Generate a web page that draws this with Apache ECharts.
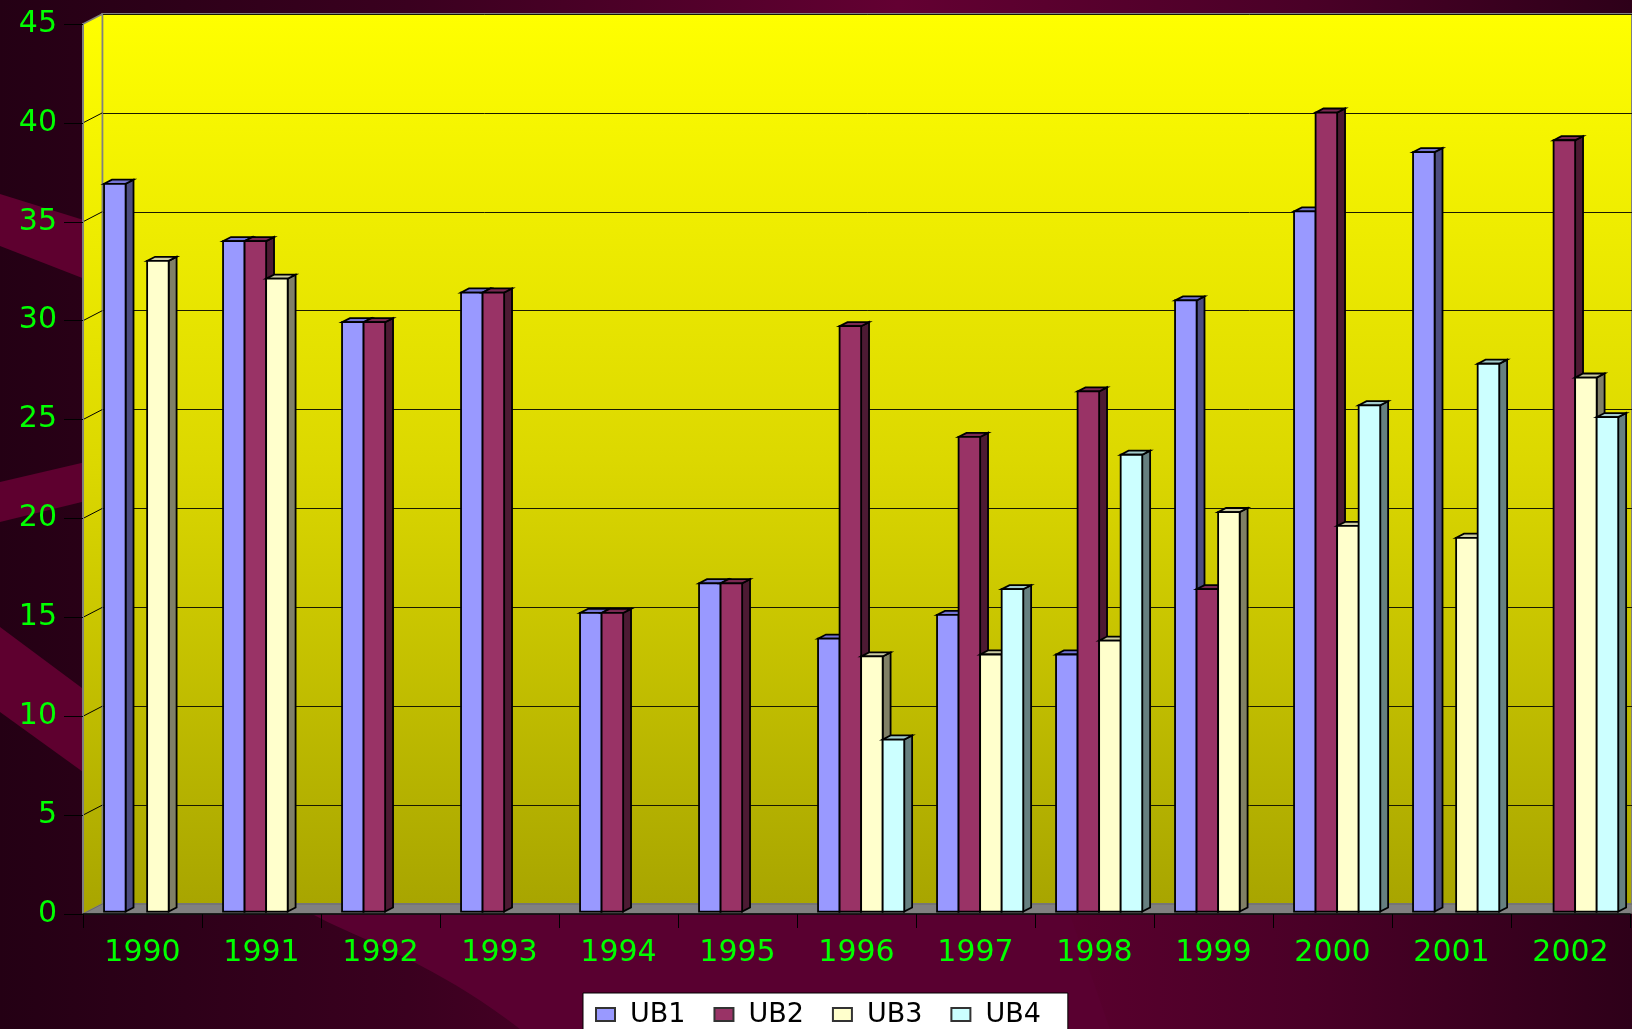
<!DOCTYPE html>
<html>
<head>
<meta charset="utf-8">
<script src="https://cdn.jsdelivr.net/npm/echarts@6/dist/echarts.min.js"></script>
<style>
html,body{margin:0;padding:0;background:#2a0018;overflow:hidden;}
#c{width:1632px;height:1029px;}
</style>
</head>
<body>
<div id="c"></div>
<script>
// ---- data ----
const categories = ['1990','1991','1992','1993','1994','1995','1996','1997','1998','1999','2000','2001','2002'];
const seriesNames = ['UB1','UB2','UB3','UB4'];
const ub1 = [36.8, 33.9, 29.8, 31.3, 15.1, 16.6, 13.8, 15.0, 13.0, 30.9, 35.4, 38.4, null];
const ub2 = [null, 33.9, 29.8, 31.3, 15.1, 16.6, 29.6, 24.0, 26.3, 16.3, 40.4, null, 39.0];
const ub3 = [32.9, 32.0, null, null, null, null, 12.9, 13.0, 13.7, 20.2, 19.5, 18.9, 27.0];
const ub4 = [null, null, null, null, null, null, 8.7, 16.3, 23.1, null, 25.6, 27.7, 25.0];
const yMin = 0, yMax = 45, yInterval = 5;

// ---- styles ----
const faceColors = [
  {front:'#9999FF', top:'#7373D6', side:'#4D4D80'},
  {front:'#993366', top:'#7A2952', side:'#4D1A33'},
  {front:'#FFFFCC', top:'#CCCCA3', side:'#808066'},
  {front:'#CCFFFF', top:'#A3CCCC', side:'#668080'}
];
const DX = 19.3, DY = -10;           // depth offset of the back wall
const FRONT_F = 0.24, DEPTH_F = 0.41; // bar depth placement
const GREEN = '#00FF00';
const FONT = 'DejaVu Sans';

const wallGrad = {type:'linear',x:0,y:0,x2:0,y2:1,colorStops:[
  {offset:0,color:'#FFFF00'},{offset:0.5,color:'#DCD800'},{offset:1,color:'#A8A500'}]};

function makeRender(s){
  const c = faceColors[s];
  return function(params, api){
    const i = api.value(0), v = api.value(1);
    const base = api.coord([i, 0]);
    const top = api.coord([i, v]);
    const band = api.size([1, 0])[0];
    const w = band * 0.181;
    const fx = DX*FRONT_F, fy = DY*FRONT_F;
    const bx = DX*DEPTH_F, by = DY*DEPTH_F;
    const L = base[0] - 2*w + fx + s*w;
    const R = L + w;
    const yT = top[1] + fy, yB = base[1] + fy;
    const st = {stroke:'#000', lineWidth:1.8, lineJoin:'miter'};
    return {type:'group', children:[
      {type:'polygon', shape:{points:[[R,yT],[R+bx,yT+by],[R+bx,yB+by],[R,yB]]},
        style:Object.assign({fill:c.side}, st)},
      {type:'polygon', shape:{points:[[L,yT],[R,yT],[R+bx,yT+by],[L+bx,yT+by]]},
        style:Object.assign({fill:c.top}, st)},
      {type:'rect', shape:{x:L,y:yT,width:w,height:yB-yT},
        style:Object.assign({fill:c.front}, st)}
    ]};
  };
}

const allVals = [ub1, ub2, ub3, ub4];
const series = allVals.map(function(arr, s){
  const d = [];
  arr.forEach(function(v, i){ if (v !== null) d.push([i, v]); });
  return {
    type:'custom', name:seriesNames[s], xAxisIndex:0, yAxisIndex:0,
    renderItem:makeRender(s), data:d, z:2,
    itemStyle:{color:faceColors[s].front, borderColor:'#333', borderWidth:1},
    encode:{x:0, y:1}, clip:false
  };
});

const FL = 83, FT = 24, FR = 2, FB = 115;
const frontW = 1632 - FL - FR, frontH = 1029 - FT - FB;

const chart = echarts.init(document.getElementById('c'), null, {renderer:'canvas'});
const option = {
  animation:false,
  backgroundColor:'transparent',
  grid:[
    {left:FL, top:FT, width:frontW, height:frontH, containLabel:false},
    {left:FL+DX, top:FT+DY, width:frontW, height:frontH, show:true,
     backgroundColor:wallGrad, borderColor:'#808080', borderWidth:2}
  ],
  xAxis:[
    {type:'category', gridIndex:0, data:categories, z:4,
     axisLine:{show:true, lineStyle:{color:'#000', width:1.5}},
     axisTick:{show:true, interval:0, length:14, lineStyle:{color:'#000', width:1}},
     axisLabel:{color:GREEN, fontSize:30, fontFamily:FONT, margin:24, interval:0},
     splitLine:{show:false}},
    {type:'category', gridIndex:1, data:categories, show:false}
  ],
  yAxis:[
    {type:'value', gridIndex:0, min:yMin, max:yMax, interval:yInterval, z:4,
     axisLine:{show:true, lineStyle:{color:'#808080', width:2}},
     axisTick:{show:true, length:19, lineStyle:{color:'#000', width:1}},
     axisLabel:{color:GREEN, fontSize:30, fontFamily:FONT, margin:26},
     splitLine:{show:false}},
    {type:'value', gridIndex:1, min:yMin, max:yMax, interval:yInterval,
     axisLine:{show:false}, axisTick:{show:false}, axisLabel:{show:false},
     splitLine:{show:true, lineStyle:{color:'#1a1a00', width:1}}}
  ],
  legend:{
    data:seriesNames, left:583, top:993, orient:'horizontal',
    icon:'rect', itemWidth:19, itemHeight:13, itemGap:28,
    backgroundColor:'#FFFFFF', borderColor:'#000', borderWidth:1,
    padding:[8, 27, 30, 12], selectedMode:false,
    textStyle:{color:'#000', fontSize:27, fontFamily:FONT, padding:[0,0,0,10]}
  },
  series:series
};
chart.setOption(option);

// ---- decoration derived from the axes ----
function decorate(){
  const p0 = chart.convertToPixel({gridIndex:0}, [0, yMin]);
  const pTop = chart.convertToPixel({yAxisIndex:0}, yMax);
  const x0 = FL, y0 = p0[1];
  const xEnd = FL + frontW;
  const els = [];
  // background
  els.push({type:'rect', z:-20, silent:true, shape:{x:0,y:0,width:1632,height:1029},
    style:{fill:{type:'linear',x:0,y:0,x2:1,y2:0,colorStops:[
      {offset:0,color:'#240014'},{offset:0.25,color:'#3a001f'},{offset:0.55,color:'#630032'},
      {offset:0.8,color:'#4a0027'},{offset:1,color:'#2e0019'}]}}});
  // decorative swooshes
  const band = '#5e002f';
  els.push({type:'polygon', z:-19, silent:true, shape:{points:[[0,194],[90,222],[90,281],[0,246]]}, style:{fill:band}});
  els.push({type:'polygon', z:-19, silent:true, shape:{points:[[0,482],[90,461],[90,500],[0,522]]}, style:{fill:band}});
  els.push({type:'polygon', z:-19, silent:true, shape:{points:[[0,627],[90,694],[90,777],[0,712]]}, style:{fill:band}});
  // curved lighter region below the floor
  const arc = [];
  for (let t = 0; t <= 1.0001; t += 0.05){
    const a = 1 - t;
    const x = a*a*a*312 + 3*a*a*t*360 + 3*a*t*t*430 + t*t*t*520;
    const y = a*a*a*914 + 3*a*a*t*940 + 3*a*t*t*960 + t*t*t*1029;
    arc.push([x, y]);
  }
  arc.push([1110,1029]); arc.push([1070,914]);
  els.push({type:'polygon', z:-19, silent:true, shape:{points:arc}, style:{fill:'#590030'}});
  // left side wall
  els.push({type:'polygon', z:1, silent:true,
    shape:{points:[[x0,pTop],[x0+DX,pTop+DY],[x0+DX,y0+DY],[x0,y0]]},
    style:{fill:wallGrad, stroke:'#808080', lineWidth:1.5}});
  // diagonal ticks on the side wall
  for (let v = yMin + yInterval; v < yMax; v += yInterval){
    const y = chart.convertToPixel({yAxisIndex:0}, v);
    els.push({type:'line', z:1, silent:true, shape:{x1:x0,y1:y,x2:x0+DX,y2:y+DY},
      style:{stroke:'#000', lineWidth:1}});
  }
  // floor
  els.push({type:'polygon', z:1, silent:true,
    shape:{points:[[x0,y0],[x0+DX,y0+DY],[xEnd+DX,y0+DY],[xEnd,y0]]},
    style:{fill:'#808080', stroke:'#6a6a6a', lineWidth:1}});
  chart.setOption({graphic:{elements:els}});
}
decorate();
</script>
</body>
</html>
